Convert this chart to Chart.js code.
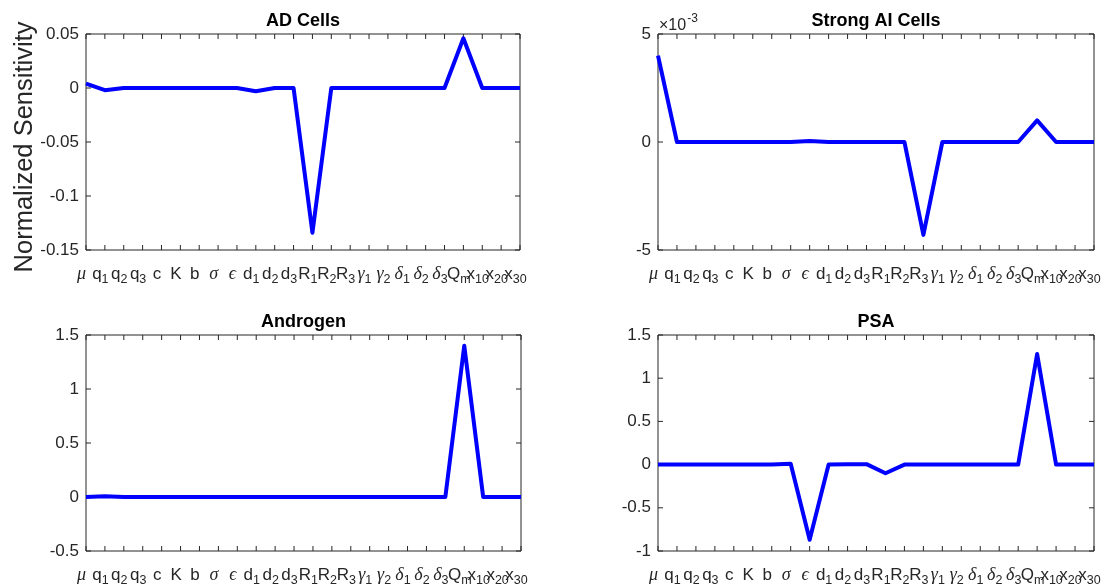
<!DOCTYPE html>
<html><head><meta charset="utf-8">
<script src="https://cdn.jsdelivr.net/npm/chart.js@4.4.1/dist/chart.umd.min.js"></script>
<style>
html,body{margin:0;padding:0;background:#fff;}
#wrap{position:relative;width:1106px;height:587px;background:#fff;}
#wrap canvas{position:absolute;left:0;top:0;}
</style></head><body>
<div id="wrap">
<canvas id="c1" width="1106" height="587"></canvas>
<canvas id="c2" width="1106" height="587"></canvas>
<canvas id="c3" width="1106" height="587"></canvas>
<canvas id="c4" width="1106" height="587"></canvas>
</div>
<script>
// ---- data ----
const categories = ['μ','q₁','q₂','q₃','c','K','b','σ','ϵ','d₁','d₂','d₃','R₁','R₂','R₃','γ₁','γ₂','δ₁','δ₂','δ₃','Qₘ','x₁₀','x₂₀','x₃₀'];
const adCells       = [0.004,-0.002,0,0,0,0,0,0,0,-0.003,0,0,-0.134,0,0,0,0,0,0,0,0.046,0,0,0];
const strongAICells = [0.0040,0,0,0,0,0,0,0,0.00005,0,0,0,0,0,-0.0043,0,0,0,0,0,0.001,0,0,0];
const androgen      = [0,0.008,0,0,0,0,0,0,0,0,0,0,0,0,0,0,0,0,0,0,1.40,0,0,0];
const psa           = [0,0,0,0,0,0,0,0.01,-0.87,0,0.005,0.005,-0.1,0,0,0,0,0,0,0,1.28,0,0,0];
const adTicks       = [-0.15,-0.1,-0.05,0,0.05];
const strongAITicks = [-0.005,0,0.005];
const androgenTicks = [-0.5,0,0.5,1,1.5];
const psaTicks      = [-1,-0.5,0,0.5,1,1.5];
const titles = ['AD Cells','Strong AI Cells','Androgen','PSA'];
const yAxisTitle = 'Normalized Sensitivity';
const exponentBase = '×10';
const exponentPower = '-3';

const FONT = '"Liberation Sans", "DejaVu Sans", Arial, sans-serif';
const GREEK_FONT = '"Liberation Serif", "DejaVu Serif", serif';
const TXT = '#262626';
const SUBS = {'₀':'0','₁':'1','₂':'2','₃':'3','₄':'4','₅':'5','₆':'6','₇':'7','₈':'8','₉':'9','ₘ':'m'};

function splitLabel(s) {
  let base = '', sub = '';
  for (const ch of s) { if (SUBS[ch]) sub += SUBS[ch]; else base += ch; }
  return {base, sub};
}

const boxTicks = {
  id: 'boxTicks',
  beforeDatasetsDraw(chart) {
    const {ctx, chartArea: a, scales: {x, y}} = chart;
    const L = 5;
    ctx.save();
    ctx.strokeStyle = TXT;
    ctx.lineWidth = 1;
    ctx.beginPath();
    ctx.rect(a.left, a.top, a.right - a.left, a.bottom - a.top);
    x.ticks.forEach((t, i) => {
      const px = x.getPixelForTick(i);
      ctx.moveTo(px, a.bottom); ctx.lineTo(px, a.bottom - L);
      ctx.moveTo(px, a.top); ctx.lineTo(px, a.top + L);
    });
    y.ticks.forEach((t, i) => {
      const py = y.getPixelForTick(i);
      ctx.moveTo(a.left, py); ctx.lineTo(a.left + L, py);
      ctx.moveTo(a.right, py); ctx.lineTo(a.right - L, py);
    });
    ctx.stroke();
    ctx.restore();
  },
  afterDraw(chart, args, opts) {
    const {ctx, chartArea: a, scales: {x}} = chart;
    ctx.save();
    ctx.fillStyle = TXT;
    ctx.textBaseline = 'alphabetic';
    ctx.textAlign = 'left';
    // category tick labels with subscripts
    const baseY = a.bottom + 29;
    x.ticks.forEach((t, i) => {
      const px = x.getPixelForTick(i);
      const {base, sub} = splitLabel(categories[i]);
      const greek = /[\u0370-\u03FF]/.test(base);
      const bf = greek ? 'italic 18px ' + GREEK_FONT : '17px ' + FONT;
      const sf = '12.5px ' + FONT;
      ctx.font = bf; const wb = ctx.measureText(base).width;
      ctx.font = sf; const ws = sub ? ctx.measureText(sub).width : 0;
      const x0 = px - 4.5 - (wb + ws) / 2;
      ctx.font = bf; ctx.fillText(base, x0, baseY);
      if (sub) { ctx.font = sf; ctx.fillText(sub, x0 + wb, baseY + 4); }
    });
    if (opts && opts.exponent) {
      ctx.font = '16px ' + FONT;
      const x0 = a.left + 1;
      ctx.fillText(exponentBase, x0, a.top - 4);
      const w = ctx.measureText(exponentBase).width;
      ctx.font = '12px ' + FONT;
      ctx.fillText(exponentPower, x0 + w + 1, a.top - 12);
    }
    if (opts && opts.yTitle) {
      ctx.translate(25, (a.top + a.bottom) / 2 + 5);
      ctx.rotate(-Math.PI / 2);
      ctx.textAlign = 'center';
      ctx.textBaseline = 'middle';
      ctx.font = '25.5px ' + FONT;
      ctx.fillText(opts.yTitle, 0, 0);
    }
    ctx.restore();
  }
};

function fmt(v) { return String(Number(v.toFixed(6))); }

function makeChart(id, title, values, ticks, pad, yWidth, opts) {
  opts = opts || {};
  const scaleF = opts.scale || 1;
  return new Chart(document.getElementById(id), {
    type: 'line',
    data: {
      labels: categories,
      datasets: [{
        data: values,
        borderColor: '#0000ff',
        borderWidth: 4,
        pointRadius: 0,
        tension: 0,
        fill: false,
        borderJoinStyle: 'round',
        borderCapStyle: 'butt'
      }]
    },
    options: {
      responsive: false,
      animation: false,
      events: [],
      layout: {padding: pad},
      plugins: {
        legend: {display: false},
        tooltip: {enabled: false},
        title: {
          display: true, text: title, color: '#000', fullSize: false,
          font: {family: FONT, size: 18, weight: 'bold', lineHeight: 1.2},
          padding: {top: 10, bottom: 2.4}
        },
        boxTicks: {exponent: !!opts.exponent, yTitle: opts.yTitle || null}
      },
      scales: {
        x: {
          type: 'category',
          offset: false,
          grid: {display: false, drawTicks: false, tickLength: 0},
          border: {display: false},
          ticks: {display: false, autoSkip: false, maxRotation: 0, minRotation: 0},
          afterFit(s) { s.height = 36; s.paddingLeft = 0; s.paddingRight = 0; }
        },
        y: {
          min: ticks[0], max: ticks[ticks.length - 1],
          grid: {display: false, drawTicks: false, tickLength: 0},
          border: {display: false},
          afterBuildTicks(s) { s.ticks = ticks.map(v => ({value: v})); },
          ticks: {
            color: TXT, padding: 7,
            font: {family: FONT, size: 17},
            callback: (v) => fmt(v * scaleF)
          },
          afterFit(s) { s.width = yWidth; s.paddingTop = 0; s.paddingBottom = 0; }
        }
      }
    },
    plugins: [boxTicks]
  });
}

makeChart('c1', titles[0], adCells, adTicks, {left: 0, right: 586, top: 0, bottom: 301}, 86, {yTitle: yAxisTitle});
makeChart('c2', titles[1], strongAICells, strongAITicks, {left: 608, right: 12, top: 0, bottom: 301}, 50, {scale: 1000, exponent: true});
makeChart('c3', titles[2], androgen, androgenTicks, {left: 0, right: 585, top: 301, bottom: 0}, 86);
makeChart('c4', titles[3], psa, psaTicks, {left: 608, right: 12, top: 301, bottom: 0}, 50);
</script>
</body></html>
